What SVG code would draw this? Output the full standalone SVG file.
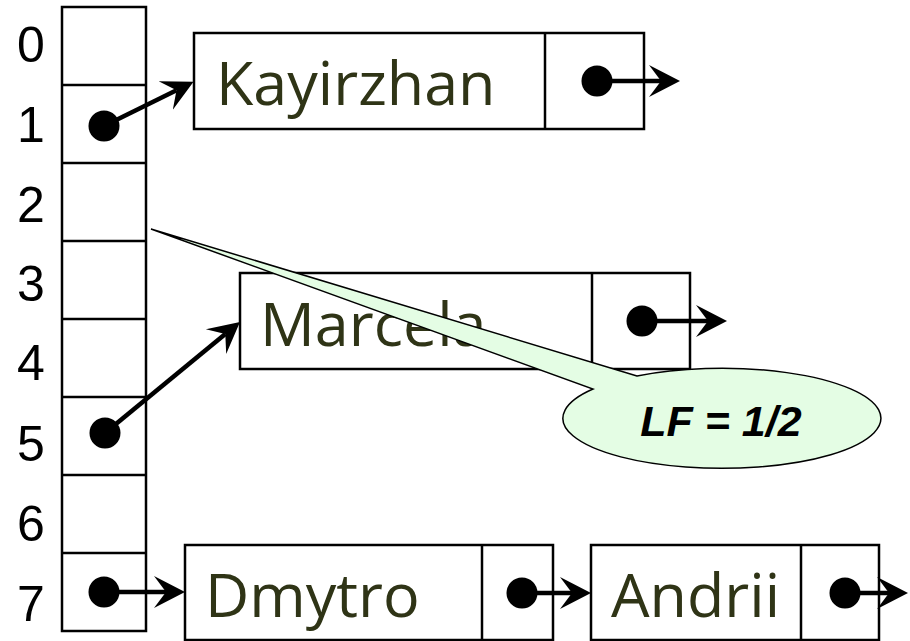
<svg xmlns="http://www.w3.org/2000/svg" width="910" height="641" viewBox="0 0 910 641">
<style>
.box{fill:#fff;stroke:#000;stroke-width:2.5}
.ln{stroke:#000;stroke-width:2.5}
.idx{font-family:"Liberation Sans",Arial,sans-serif;font-size:50px;fill:#000;text-anchor:middle}
.name{font-family:"Open Sans","DejaVu Sans",sans-serif;font-size:61px;fill:#2F3416}
.ptr{stroke:#000;stroke-width:4.5;fill:none}
.dot{fill:#000}
.lf{font-family:"Liberation Sans",Arial,sans-serif;font-size:43px;font-weight:bold;font-style:italic;fill:#000;text-anchor:middle}
</style>
<defs>
<marker id="ah" markerUnits="userSpaceOnUse" markerWidth="36" markerHeight="36" viewBox="0 -18 36 36" refX="12" refY="0" orient="auto">
<path d="M0,-16 L31,0 L0,16 L12,0 Z" fill="#000"/>
</marker>
</defs>
<rect width="910" height="641" fill="#fff"/>
<g id="table">
<rect class="box" x="62" y="7" width="84" height="624"/>
<line class="ln" x1="62" y1="85" x2="146" y2="85"/>
<line class="ln" x1="62" y1="163" x2="146" y2="163"/>
<line class="ln" x1="62" y1="241" x2="146" y2="241"/>
<line class="ln" x1="62" y1="319" x2="146" y2="319"/>
<line class="ln" x1="62" y1="397" x2="146" y2="397"/>
<line class="ln" x1="62" y1="475" x2="146" y2="475"/>
<line class="ln" x1="62" y1="553" x2="146" y2="553"/>
<text class="idx" x="31" y="62">0</text>
<text class="idx" x="31" y="142">1</text>
<text class="idx" x="31" y="222">2</text>
<text class="idx" x="31" y="301">3</text>
<text class="idx" x="31" y="380">4</text>
<text class="idx" x="31" y="461">5</text>
<text class="idx" x="31" y="541">6</text>
<text class="idx" x="31" y="621">7</text>
</g>
<g id="kayirzhan">
<rect class="box" x="194" y="33" width="450" height="96"/>
<line class="ln" x1="545" y1="33" x2="545" y2="129"/>
<text class="name" x="216" y="105">Kayirzhan</text>
</g>
<g id="marcela">
<rect class="box" x="240" y="273" width="450" height="96"/>
<line class="ln" x1="592" y1="273" x2="592" y2="369"/>
<text class="name" x="260" y="346">Marcela</text>
</g>
<g id="dmytro">
<rect class="box" x="185" y="545" width="368" height="95"/>
<line class="ln" x1="482" y1="545" x2="482" y2="640"/>
<text class="name" x="205" y="617">Dmytro</text>
</g>
<g id="andrii">
<rect class="box" x="591" y="545" width="288" height="95"/>
<line class="ln" x1="801" y1="545" x2="801" y2="640"/>
<text class="name" x="611" y="617">Andrii</text>
</g>
<g id="connectors">
<circle class="dot" cx="104" cy="126" r="15.5"/>
<line class="ptr" x1="104" y1="126" x2="176.5" y2="90.2" marker-end="url(#ah)"/>
<circle class="dot" cx="105" cy="433" r="15.5"/>
<line class="ptr" x1="105" y1="433" x2="225.3" y2="334.1" marker-end="url(#ah)"/>
<circle class="dot" cx="104" cy="592" r="15.5"/>
<line class="ptr" x1="104" y1="592" x2="166" y2="592" marker-end="url(#ah)"/>
<circle class="dot" cx="597" cy="81" r="15.5"/>
<line class="ptr" x1="597" y1="81" x2="661" y2="81" marker-end="url(#ah)"/>
<circle class="dot" cx="642" cy="321" r="15.5"/>
<line class="ptr" x1="642" y1="321" x2="708" y2="321" marker-end="url(#ah)"/>
<circle class="dot" cx="522" cy="593" r="15.5"/>
<line class="ptr" x1="522" y1="593" x2="572" y2="593" marker-end="url(#ah)"/>
<circle class="dot" cx="845" cy="593" r="15.5"/>
<line class="ptr" x1="845" y1="593" x2="889" y2="593" marker-end="url(#ah)"/>
</g>
<g id="callout">
<path d="M637,376 L151,229 L593,389 A159,50 0 1 0 637,376 Z" fill="#E4FDE4" stroke="#000" stroke-width="1.5" stroke-linejoin="miter"/>
<text class="lf" x="721" y="436">LF = 1/2</text>
</g>
</svg>
